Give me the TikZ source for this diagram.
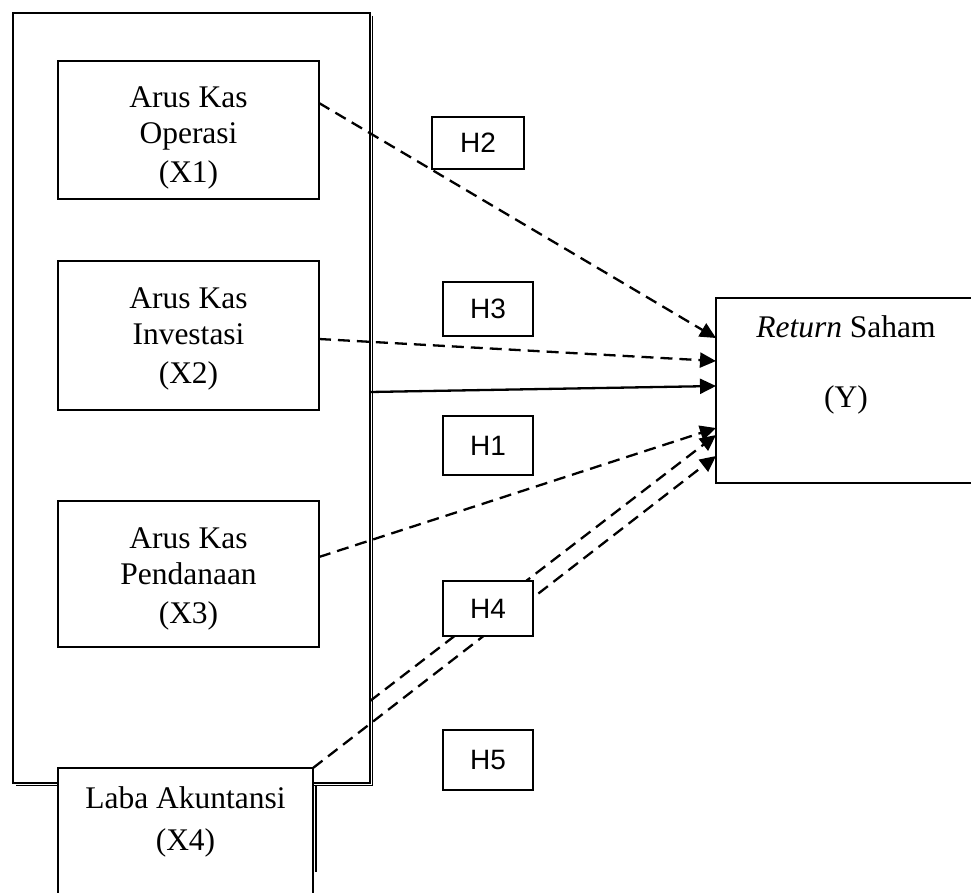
\documentclass[tikz,border=0pt]{standalone}
\usepackage{fontspec}
\setmainfont{Liberation Serif}
\newfontfamily\arialf{Liberation Sans}
\usetikzlibrary{arrows.meta}
\begin{document}
\begin{tikzpicture}[x=1pt,y=-1pt,
  box/.style={draw,line width=2pt,fill=white,inner sep=0pt,outer sep=0pt},
  hbox/.style={draw,line width=1.7pt,fill=white,inner sep=0pt,outer sep=0pt,font=\arialf\fontsize{28}{32}\selectfont},
  txt/.style={anchor=base,inner sep=0pt,font=\fontsize{31.5}{38}\selectfont},
  dline/.style={line width=2.3pt,dash pattern=on 12pt off 7pt,-{Triangle[length=16pt,width=15pt]}},
  sline/.style={line width=2.3pt,-{Triangle[length=16pt,width=15pt]}},
  shadowline/.style={line width=1.4pt}
]
\useasboundingbox (0,0) rectangle (971,893);
% outer frame with shadow
\coordinate (sh1) at (372.5,16);
\coordinate (sh2) at (372.5,785.5);
\coordinate (sh3) at (16,785.5);
\draw[shadowline] (sh1) -- (sh2) -- (sh3);
\node[box,minimum width=357pt,minimum height=770pt] (outer) at (191.5,398) {};
% inner boxes
\node[box,minimum width=261pt,minimum height=138pt] (x1) at (188.5,130) {};
\node[box,minimum width=261pt,minimum height=149pt] (x2) at (188.5,335.5) {};
\node[box,minimum width=261pt,minimum height=146pt] (x3) at (188.5,574) {};
\node[box,minimum width=257pt,minimum height=185pt] (yb) at (844.5,390.5) {};
% texts
\node[txt] (x1a) at (188.5,108) {Arus Kas};
\node[txt] (x1b) at (188.5,144) {Operasi};
\node[txt] (x1c) at (188.5,183) {(X1)};
\node[txt] (x2a) at (188.5,308) {Arus Kas};
\node[txt] (x2b) at (188.5,344) {Investasi};
\node[txt] (x2c) at (188.5,383) {(X2)};
\node[txt] (x3a) at (188.5,548) {Arus Kas};
\node[txt] (x3b) at (188.5,584) {Pendanaan};
\node[txt] (x3c) at (188.5,623) {(X3)};
\node[txt] (ya) at (846,337) {\textit{Return} Saham};
\node[txt] (yc) at (846,407) {(Y)};
% Laba box
\coordinate (ls1) at (316,785);
\coordinate (ls2) at (316,872);
\draw[shadowline] (ls1) -- (ls2);
\node[box,minimum width=255pt,minimum height=132pt] (laba) at (185.5,834) {};
\node[txt] (la) at (185.5,808) {Laba Akuntansi};
\node[txt] (lb) at (185.5,850) {(X4)};
% connectors
\draw[dline] ([yshift=27pt]x1.east) -- ([yshift=52.5pt]yb.west);
\draw[dline] ([yshift=-3.5pt]x2.east) -- ([yshift=29.5pt]yb.west);
\draw[sline] ([yshift=6pt]outer.east) -- ([yshift=4.5pt]yb.west);
\draw[dline] ([yshift=17pt]x3.east) -- ([yshift=-37.5pt]yb.west);
\draw[dline] ([yshift=-303pt]outer.east) -- ([yshift=-44.5pt]yb.west);
\draw[dline] (laba.north east) -- ([yshift=-65.5pt]yb.west);
% hypothesis labels
\node[hbox,minimum width=92pt,minimum height=52pt] (h2) at (478,143) {H2};
\node[hbox,minimum width=90pt,minimum height=54pt] (h3) at (488,309) {H3};
\node[hbox,minimum width=90pt,minimum height=59pt] (h1) at (488,445.5) {H1};
\node[hbox,minimum width=90pt,minimum height=55pt] (h4) at (488,608.5) {H4};
\node[hbox,minimum width=90pt,minimum height=60pt] (h5) at (488,760) {H5};
\end{tikzpicture}
\end{document}
